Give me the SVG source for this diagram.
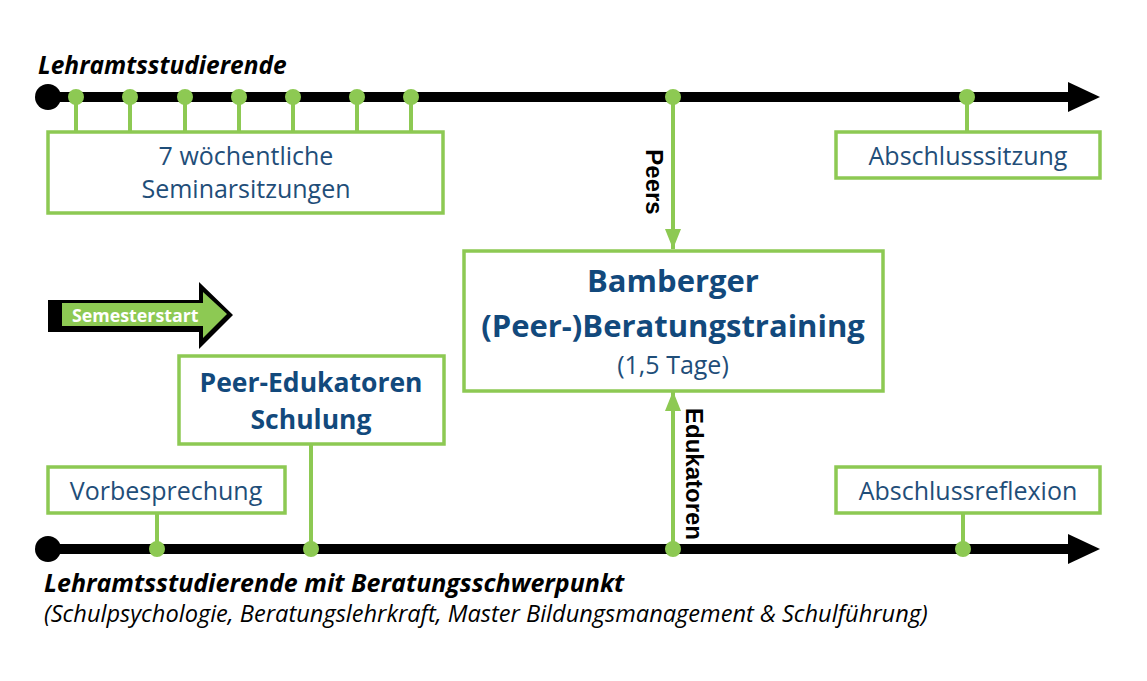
<svg xmlns="http://www.w3.org/2000/svg" width="1147" height="681" viewBox="0 0 1147 681">
<defs>
<style>
.tl{stroke:#000;stroke-width:10;fill:none}
.g{stroke:#8DC953;stroke-width:4;fill:none}
.box{fill:#fff;stroke:#8DC953;stroke-width:3.5}
.dot{fill:#8DC953}
.t{font-family:"Open Sans","Noto Sans","Liberation Sans",sans-serif;fill:#1F4E79;text-anchor:middle}
.tb{font-family:"Open Sans","Noto Sans","Liberation Sans",sans-serif;fill:#12497C;font-weight:bold;text-anchor:middle}
.lbl{font-family:"Liberation Sans",Arial,sans-serif;font-weight:bold;fill:#000;font-size:24px}
.hd{font-family:"Open Sans","Noto Sans","Liberation Sans",sans-serif;font-style:italic;fill:#000}
</style>
<marker id="ga" viewBox="0 0 20 16" refX="20" refY="8" markerWidth="20" markerHeight="16" markerUnits="userSpaceOnUse" orient="auto"><path d="M0,0L20,8L0,16z" fill="#8DC953"/></marker>
</defs>
<rect width="1147" height="681" fill="#fff"/>

<g id="timelines">
<line class="tl" x1="48" y1="97" x2="1072" y2="97"/>
<path d="M1068,82L1100,97L1068,112z" fill="#000"/>
<circle cx="48" cy="97" r="13" fill="#000"/>
<line class="tl" x1="48" y1="549" x2="1072" y2="549"/>
<path d="M1068,534L1100,549L1068,564z" fill="#000"/>
<circle cx="48" cy="549" r="13" fill="#000"/>
</g>

<g id="connectors">
<path class="g" d="M76,97V132M130,97V132M185,97V132M239,97V132M293,97V132M357,97V132M411,97V132"/>
<line class="g" x1="967" y1="97" x2="967" y2="132"/>
<line class="g" x1="673" y1="97" x2="673" y2="249" marker-end="url(#ga)"/>
<line class="g" x1="673" y1="549" x2="673" y2="391" marker-end="url(#ga)"/>
<line class="g" x1="157" y1="513" x2="157" y2="549"/>
<line class="g" x1="311" y1="444" x2="311" y2="549"/>
<line class="g" x1="963" y1="513" x2="963" y2="549"/>
<g class="dot">
<circle cx="76" cy="97" r="8"/><circle cx="130" cy="97" r="8"/><circle cx="185" cy="97" r="8"/><circle cx="239" cy="97" r="8"/><circle cx="293" cy="97" r="8"/><circle cx="357" cy="97" r="8"/><circle cx="411" cy="97" r="8"/>
<circle cx="673" cy="97" r="8"/><circle cx="967" cy="97" r="8"/>
<circle cx="157" cy="549" r="8"/><circle cx="311" cy="549" r="8"/><circle cx="673" cy="549" r="8"/><circle cx="963" cy="549" r="8"/>
</g>
<text class="lbl" transform="translate(646,182) rotate(90)" text-anchor="middle">Peers</text>
<text class="lbl" transform="translate(686,474) rotate(90)" text-anchor="middle">Edukatoren</text>
</g>

<g id="label-top">
<text class="hd" x="38" y="74" font-size="24.5" font-weight="bold">Lehramtsstudierende</text>
</g>

<g id="seminar">
<rect class="box" x="48" y="132" width="395" height="81"/>
<text class="t" x="246" y="165" font-size="25">7 wöchentliche</text>
<text class="t" x="246" y="198" font-size="25">Seminarsitzungen</text>
</g>

<g id="abschlusssitzung">
<rect class="box" x="836" y="132" width="264" height="46"/>
<text class="t" x="968" y="165" font-size="25">Abschlusssitzung</text>
</g>

<g id="semesterstart">
<path d="M48,300H199V282L233,315L199,349V332H48z" fill="#000"/>
<path d="M62,303H203V292L227,314L203,338V326H62z" fill="#8DC953"/>
<text x="72" y="322" font-family="'Open Sans','Noto Sans','Liberation Sans',sans-serif" font-weight="bold" font-size="17.8" fill="#fff">Semesterstart</text>
</g>

<g id="training">
<rect class="box" x="464" y="251" width="419" height="140"/>
<text class="tb" x="673" y="292" font-size="31">Bamberger</text>
<text class="tb" x="673" y="337" font-size="31">(Peer-)Beratungstraining</text>
<text class="t" x="673" y="374" font-size="25">(1,5 Tage)</text>
</g>

<g id="schulung">
<rect class="box" x="179" y="356" width="265" height="88"/>
<text class="tb" x="311" y="392" font-size="26.5">Peer-Edukatoren</text>
<text class="tb" x="311" y="429" font-size="26.5">Schulung</text>
</g>

<g id="vorbesprechung">
<rect class="box" x="48" y="467" width="237" height="46"/>
<text class="t" x="166" y="500" font-size="25">Vorbesprechung</text>
</g>

<g id="abschlussreflexion">
<rect class="box" x="836" y="467" width="264" height="46"/>
<text class="t" x="968" y="500" font-size="25">Abschlussreflexion</text>
</g>

<g id="label-bottom">
<text class="hd" x="44" y="592" font-size="25" font-weight="bold">Lehramtsstudierende mit Beratungsschwerpunkt</text>
<text class="hd" x="44" y="622" font-size="23.6">(Schulpsychologie, Beratungslehrkraft, Master Bildungsmanagement &amp; Schulführung)</text>
</g>
</svg>
